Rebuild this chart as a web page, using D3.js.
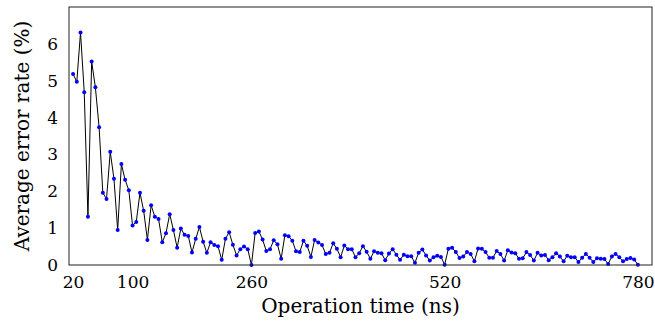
<!DOCTYPE html>
<html lang="en">
<head>
    <meta charset="UTF-8">
    <title>error rate</title>
    <style>
        body {
            margin: 0;
            background: white;
        }
    </style>
    <script src="https://d3js.org/d3.v7.min.js"></script>
</head>
<body>
    <div id="chart"></div>

    <script>
        // operation time (ns)
        const times = [
            20, 25, 30, 35, 40, 45, 50, 55, 60, 65, 70, 75, 80, 85, 90, 95,
            100, 105, 110, 115, 120, 125, 130, 135, 140, 145, 150, 155, 160, 165, 170, 175,
            180, 185, 190, 195, 200, 205, 210, 215, 220, 225, 230, 235, 240, 245, 250, 255,
            260, 265, 270, 275, 280, 285, 290, 295, 300, 305, 310, 315, 320, 325, 330, 335,
            340, 345, 350, 355, 360, 365, 370, 375, 380, 385, 390, 395, 400, 405, 410, 415,
            420, 425, 430, 435, 440, 445, 450, 455, 460, 465, 470, 475, 480, 485, 490, 495,
            500, 505, 510, 515, 520, 525, 530, 535, 540, 545, 550, 555, 560, 565, 570, 575,
            580, 585, 590, 595, 600, 605, 610, 615, 620, 625, 630, 635, 640, 645, 650, 655,
            660, 665, 670, 675, 680, 685, 690, 695, 700, 705, 710, 715, 720, 725, 730, 735,
            740, 745, 750, 755, 760, 765, 770, 775, 780
        ];

        // average error rate (%)
        const errorRates = [
            5.18, 4.97, 6.31, 4.69, 1.31, 5.52, 4.82, 3.74, 1.96, 1.79, 3.07, 2.34, 0.95, 2.74, 2.31, 2.03,
            1.07, 1.17, 1.96, 1.47, 0.68, 1.62, 1.31, 1.25, 0.62, 0.86, 1.38, 0.95, 0.47, 0.99, 0.82, 0.79,
            0.34, 0.71, 1.03, 0.63, 0.33, 0.62, 0.54, 0.51, 0.14, 0.71, 0.89, 0.55, 0.26, 0.43, 0.50, 0.43,
            0.00, 0.87, 0.91, 0.69, 0.38, 0.43, 0.67, 0.56, 0.17, 0.81, 0.78, 0.66, 0.37, 0.35, 0.66, 0.52,
            0.22, 0.68, 0.61, 0.54, 0.30, 0.33, 0.59, 0.44, 0.21, 0.53, 0.43, 0.43, 0.21, 0.32, 0.51, 0.36,
            0.17, 0.37, 0.33, 0.32, 0.13, 0.31, 0.43, 0.28, 0.14, 0.28, 0.24, 0.24, 0.06, 0.33, 0.42, 0.26,
            0.12, 0.21, 0.25, 0.22, 0.01, 0.44, 0.47, 0.35, 0.19, 0.23, 0.35, 0.30, 0.10, 0.45, 0.44, 0.35,
            0.20, 0.20, 0.38, 0.30, 0.12, 0.40, 0.34, 0.32, 0.17, 0.18, 0.35, 0.27, 0.12, 0.33, 0.26, 0.27,
            0.13, 0.21, 0.32, 0.23, 0.10, 0.25, 0.21, 0.21, 0.08, 0.20, 0.30, 0.20, 0.08, 0.18, 0.17, 0.16,
            0.03, 0.23, 0.30, 0.21, 0.10, 0.16, 0.19, 0.15, 0.01
        ];

        const xTicks = [20, 100, 260, 520, 780];
        const yTicks = [0, 1, 2, 3, 4, 5, 6];

        const width = 655;
        const height = 324;
        const margin = {top: 7, right: 3, bottom: 59, left: 69};
        const serif = "'DejaVu Serif', serif";

        const data = times.map((t, i) => ({t: t, v: errorRates[i]}));

        const svg = d3.select('#chart')
            .append('svg')
            .attr('width', width)
            .attr('height', height);

        const x = d3.scaleLinear()
            .domain([14.5, 799])
            .range([margin.left, width - margin.right]);

        const y = d3.scaleLinear()
            .domain([0, 7])
            .range([height - margin.bottom, margin.top]);

        // axes (no tick marks, just labels)
        svg.append('g')
            .attr('transform', `translate(0,${height - margin.bottom})`)
            .call(d3.axisBottom(x).tickValues(xTicks).tickSize(0).tickPadding(11))
            .call(g => g.select('.domain').remove());

        svg.append('g')
            .attr('transform', `translate(${margin.left},0)`)
            .call(d3.axisLeft(y).tickValues(yTicks).tickFormat(d3.format('d')).tickSize(0).tickPadding(11))
            .call(g => g.select('.domain').remove());

        svg.selectAll('.tick text')
            .style('font-family', serif)
            .style('font-size', '17px')
            .attr('fill', 'black');

        // line
        const line = d3.line()
            .x(d => x(d.t))
            .y(d => y(d.v));

        svg.append('path')
            .datum(data)
            .attr('fill', 'none')
            .attr('stroke', 'black')
            .attr('stroke-width', 1)
            .attr('d', line);

        svg.append('g')
            .selectAll('circle')
            .data(data)
            .join('circle')
            .attr('cx', d => x(d.t))
            .attr('cy', d => y(d.v))
            .attr('r', 2)
            .attr('fill', '#0000ff');

        // frame
        svg.append('rect')
            .attr('x', margin.left)
            .attr('y', margin.top)
            .attr('width', width - margin.left - margin.right)
            .attr('height', height - margin.top - margin.bottom)
            .attr('fill', 'none')
            .attr('stroke', '#222')
            .attr('stroke-width', 1);

        // axis titles
        svg.append('text')
            .style('font-family', serif)
            .style('font-size', '20px')
            .attr('x', (margin.left + width - margin.right) / 2)
            .attr('y', 313)
            .attr('text-anchor', 'middle')
            .text('Operation time (ns)');

        svg.append('text')
            .style('font-family', serif)
            .style('font-size', '20px')
            .attr('transform', `translate(29,${(margin.top + height - margin.bottom) / 2}) rotate(-90)`)
            .attr('text-anchor', 'middle')
            .text('Average error rate (%)');
    </script>
</body>
</html>
